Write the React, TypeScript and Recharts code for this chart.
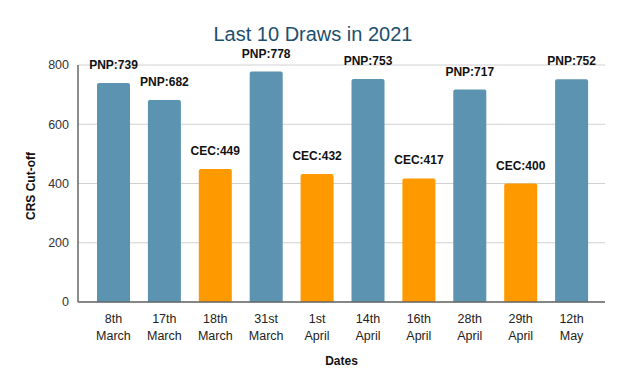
import React from 'react';
import { BarChart, Bar, XAxis, YAxis, CartesianGrid, Cell, LabelList, Label } from 'recharts';

const dates = ['8th March', '17th March', '18th March', '31st March', '1st April', '14th April', '16th April', '28th April', '29th April', '12th May'];
const programs = ['PNP', 'PNP', 'CEC', 'PNP', 'CEC', 'PNP', 'CEC', 'PNP', 'CEC', 'PNP'];
const cutoffs = [739, 682, 449, 778, 432, 753, 417, 717, 400, 752];
const yTicks = [0, 200, 400, 600, 800];

const colors: Record<string, string> = { PNP: '#5b93b1', CEC: '#ff9900' };
const FONT = '"Liberation Sans", Arial, sans-serif';

const data = dates.map((d, i) => ({
  date: d,
  value: cutoffs[i],
  program: programs[i],
  label: `${programs[i]}:${cutoffs[i]}`,
}));

const DateTick = (props: any) => {
  const { x, y, payload } = props;
  const words = String(payload.value).split(' ');
  return (
    <text x={x} y={y} textAnchor="middle" fontFamily={FONT} fontSize={12.5} fill="#222">
      {words.map((w, i) => (
        <tspan key={i} x={x} dy={i === 0 ? 13 : 17}>{w}</tspan>
      ))}
    </text>
  );
};

const App: React.FC = () => {
  return (
    <div style={{ position: 'fixed', left: 0, top: 0, width: 627, height: 390, background: '#fff' }}>
      <BarChart
        width={627}
        height={390}
        data={data}
        margin={{ top: 65, right: 22, bottom: 18, left: 0 }}
        barSize={33}
      >
        <text x={313} y={41} textAnchor="middle" fontFamily={FONT} fontSize={20} fill="#1d4f6e">
          Last 10 Draws in 2021
        </text>
        <CartesianGrid vertical={false} stroke="#d0d0d0" />
        <XAxis
          dataKey="date"
          interval={0}
          height={70}
          padding={{ left: 10, right: 8 }}
          tickLine={false}
          axisLine={{ stroke: '#666', strokeWidth: 1.5 }}
          tick={<DateTick />}
        >
          <Label
            value="Dates"
            position="insideBottom"
            offset={7}
            style={{ fontFamily: FONT, fontSize: 12, fontWeight: 'bold', fill: '#111' }}
          />
        </XAxis>
        <YAxis
          width={78}
          domain={[0, 800]}
          ticks={yTicks}
          tickLine={false}
          axisLine={{ stroke: '#666', strokeWidth: 1.5 }}
          tickMargin={3}
          tick={{ fontFamily: FONT, fontSize: 12.5, fill: '#333' }}
        >
          <Label
            content={() => (
              <text
                x={32}
                y={186}
                transform="rotate(-90 32 186)"
                textAnchor="middle"
                dominantBaseline="middle"
                fontFamily={FONT}
                fontSize={12}
                fontWeight="bold"
                fill="#111"
              >
                CRS Cut-off
              </text>
            )}
          />
        </YAxis>
        <Bar dataKey="value" isAnimationActive={false} radius={[2, 2, 0, 0]}>
          {data.map((d, i) => (
            <Cell key={i} fill={colors[d.program]} />
          ))}
          <LabelList
            dataKey="label"
            position="top"
            offset={14}
            style={{ fontFamily: FONT, fontSize: 12, fontWeight: 'bold', fill: '#111' }}
          />
        </Bar>
      </BarChart>
    </div>
  );
};

export default App;
